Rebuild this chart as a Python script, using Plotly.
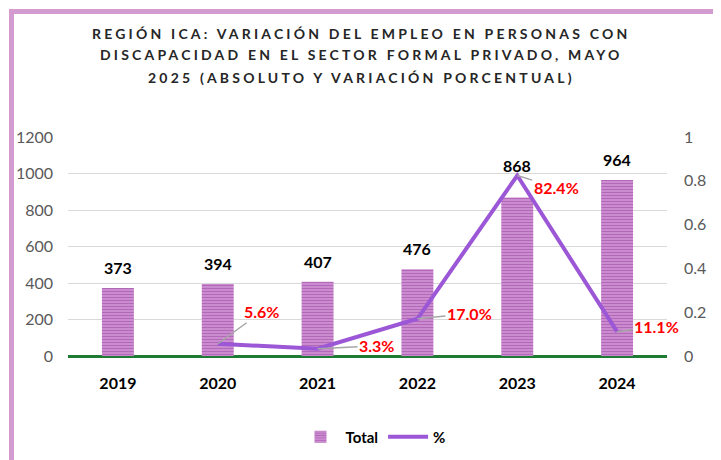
import plotly.graph_objects as go

# ── data ─────────────────────────────────────────────────────────────────────
years = ["2019", "2020", "2021", "2022", "2023", "2024"]
total = [373, 394, 407, 476, 868, 964]

pct_years = ["2020", "2021", "2022", "2023", "2024"]
pct = [0.056, 0.033, 0.170, 0.824, 0.111]

title_lines = [
    "REGIÓN ICA: VARIACIÓN DEL EMPLEO EN PERSONAS CON",
    "DISCAPACIDAD EN EL SECTOR FORMAL PRIVADO, MAYO",
    "2025 (ABSOLUTO Y VARIACIÓN PORCENTUAL)",
]

# ── styling ──────────────────────────────────────────────────────────────────
FONT = "Lato, Open Sans, sans-serif"
BAR_DARK = "#85248F"
BAR_LIGHT = "#E0ACE3"
LINE_COL = "#9B57D6"
BORDER = "#D49BD0"

# page body adds an 8px margin, so the figure is drawn 8px smaller and
# margins are reduced by the same amount on the left/top
W, H = 713, 452
PLOT_L, PLOT_T, PLOT_R, PLOT_B = 68, 137, 667, 356   # window pixels


def px_x(px):
    return (px - PLOT_L) / (PLOT_R - PLOT_L)


def px_y(py):
    return (PLOT_B - py) / (PLOT_B - PLOT_T)


# label offsets in pixels (bar totals and % leader lines)
bar_label_shift = [9, 9, 9, 9, 21, 9]
pct_ax = [44, 59, 52, 39, 39]
pct_ay = [-32, -3, -5, 12, -5]

fig = go.Figure()

fig.add_trace(go.Bar(
    x=years, y=total, name="Total",
    width=0.32,
    marker=dict(
        color=BAR_LIGHT,
        line=dict(width=0),
        pattern=dict(shape="-", fgcolor=BAR_DARK, bgcolor=BAR_LIGHT,
                     size=3, solidity=0.65),
    ),
))

fig.add_trace(go.Scatter(
    x=pct_years, y=pct, name="%", yaxis="y2",
    mode="lines",
    line=dict(color=LINE_COL, width=4),
))

# bar value labels (x given as category index so "2019" isn't read as a number)
for yr, v, s in zip(years, total, bar_label_shift):
    fig.add_annotation(
        x=years.index(yr), y=v, text=f"<b>{v}</b>", showarrow=False,
        yanchor="bottom", yshift=s,
        font=dict(family=FONT, size=16, color="#000000"),
    )

# percentage labels with leader lines
for yr, v, ax, ay in zip(pct_years, pct, pct_ax, pct_ay):
    fig.add_annotation(
        x=years.index(yr), y=v, yref="y2", text=f"<b>{v*100:.1f}%</b>",
        showarrow=True, arrowhead=0, arrowwidth=1.5, arrowcolor="#A6A6A6",
        ax=ax, ay=ay, standoff=0,
        font=dict(family=FONT, size=16, color="#FF0000"),
    )

# title (three centred lines, letter-spaced)
for i, line in enumerate(title_lines):
    fig.add_annotation(
        xref="paper", yref="paper", x=px_x(361), y=px_y(33 + 22 * i),
        text=f'<span style="letter-spacing:3.2px"><b>{line}</b></span>',
        showarrow=False, xanchor="center", yanchor="middle",
        font=dict(family=FONT, size=14, color="#262626"),
    )

# frame: purple line along the top and down the left side
fig.add_shape(type="line", xref="paper", yref="paper",
              x0=px_x(9), x1=px_x(725), y0=px_y(11.5), y1=px_y(11.5),
              line=dict(color=BORDER, width=5))
fig.add_shape(type="line", xref="paper", yref="paper",
              x0=px_x(11.5), x1=px_x(11.5), y0=px_y(9), y1=px_y(465),
              line=dict(color=BORDER, width=5))

fig.update_layout(
    width=W, height=H,
    margin=dict(l=PLOT_L - 8, r=W + 8 - PLOT_R, t=PLOT_T - 8, b=H + 8 - PLOT_B,
                autoexpand=False),
    paper_bgcolor="white", plot_bgcolor="white",
    font=dict(family=FONT, size=15, color="#595959"),
    showlegend=True,
    legend=dict(
        orientation="h", x=px_x(373), xanchor="center", y=px_y(437), yanchor="middle",
        font=dict(family=FONT, size=15, color="#000000", weight="bold"),
        itemwidth=40,
    ),
    xaxis=dict(
        type="category", categoryorder="array", categoryarray=years,
        range=[-0.5, len(years) - 0.5],
        showgrid=False, showline=False, ticks="",
        ticklabelstandoff=16,
        tickfont=dict(family=FONT, size=16, color="#000000", weight="bold"),
    ),
    yaxis=dict(
        range=[0, 1200], dtick=200,
        showgrid=True, gridcolor="#D9D9D9", gridwidth=1,
        zeroline=True, zerolinecolor="#1E7B34", zerolinewidth=3,
        showline=False, ticks="", ticklabelstandoff=14,
        tickfont=dict(family=FONT, size=16, color="#595959"),
    ),
    yaxis2=dict(
        overlaying="y", side="right",
        range=[0, 1.0], dtick=0.2,
        showgrid=False, zeroline=False, showline=False, ticks="",
        ticklabelstandoff=16,
        tickfont=dict(family=FONT, size=16, color="#595959"),
    ),
)

fig.write_html("out.html")
